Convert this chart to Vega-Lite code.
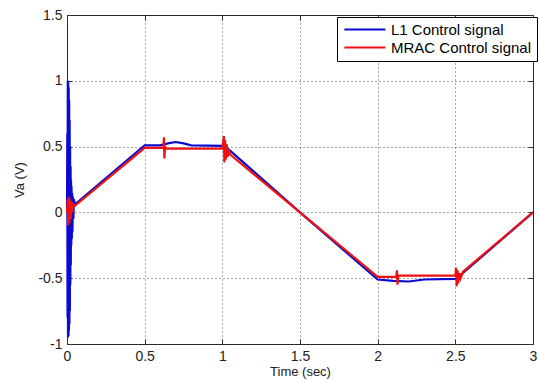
{
  "$schema": "https://vega.github.io/schema/vega-lite/v6.json",
  "width": 466,
  "height": 329,
  "autosize": {"type": "none"},
  "padding": {"left": 67, "top": 15, "right": 6, "bottom": 36},
  "background": "white",
  "config": {
    "view": {"stroke": "#333333", "strokeWidth": 1},
    "font": "Liberation Sans",
    "axis": {
      "labelFont": "Liberation Sans",
      "labelFontSize": 14,
      "labelColor": "#222222",
      "titleFont": "Liberation Sans",
      "titleFontSize": 13,
      "titleFontWeight": "normal",
      "titleColor": "#222222",
      "domain": false,
      "tickColor": "#333333",
      "tickSize": -5,
      "gridColor": "#000000",
      "gridDash": [1, 3],
      "gridOpacity": 0.7,
      "gridWidth": 1
    }
  },
  "data": {
    "values": [
      {"s": "L1 Control signal", "i": 1, "t": 0.0, "v": 0.0},
      {"s": "L1 Control signal", "i": 2, "t": 0.002, "v": 0.6},
      {"s": "L1 Control signal", "i": 3, "t": 0.0035, "v": -0.8},
      {"s": "L1 Control signal", "i": 4, "t": 0.005, "v": 1.0},
      {"s": "L1 Control signal", "i": 5, "t": 0.0065, "v": -0.95},
      {"s": "L1 Control signal", "i": 6, "t": 0.008, "v": 1.0},
      {"s": "L1 Control signal", "i": 7, "t": 0.0095, "v": -0.94},
      {"s": "L1 Control signal", "i": 8, "t": 0.011, "v": 0.95},
      {"s": "L1 Control signal", "i": 9, "t": 0.0125, "v": -0.9},
      {"s": "L1 Control signal", "i": 10, "t": 0.014, "v": 0.85},
      {"s": "L1 Control signal", "i": 11, "t": 0.0155, "v": -0.85},
      {"s": "L1 Control signal", "i": 12, "t": 0.017, "v": 0.7},
      {"s": "L1 Control signal", "i": 13, "t": 0.0185, "v": -0.75},
      {"s": "L1 Control signal", "i": 14, "t": 0.02, "v": 0.5},
      {"s": "L1 Control signal", "i": 15, "t": 0.0215, "v": -0.55},
      {"s": "L1 Control signal", "i": 16, "t": 0.023, "v": 0.35},
      {"s": "L1 Control signal", "i": 17, "t": 0.0245, "v": -0.4},
      {"s": "L1 Control signal", "i": 18, "t": 0.026, "v": 0.25},
      {"s": "L1 Control signal", "i": 19, "t": 0.0275, "v": -0.25},
      {"s": "L1 Control signal", "i": 20, "t": 0.029, "v": 0.2},
      {"s": "L1 Control signal", "i": 21, "t": 0.031, "v": -0.2},
      {"s": "L1 Control signal", "i": 22, "t": 0.033, "v": 0.15},
      {"s": "L1 Control signal", "i": 23, "t": 0.035, "v": -0.15},
      {"s": "L1 Control signal", "i": 24, "t": 0.038, "v": 0.12},
      {"s": "L1 Control signal", "i": 25, "t": 0.041, "v": -0.05},
      {"s": "L1 Control signal", "i": 26, "t": 0.045, "v": 0.1},
      {"s": "L1 Control signal", "i": 27, "t": 0.05, "v": 0.06},
      {"s": "L1 Control signal", "i": 28, "t": 0.5, "v": 0.51},
      {"s": "L1 Control signal", "i": 29, "t": 0.6, "v": 0.51},
      {"s": "L1 Control signal", "i": 30, "t": 0.65, "v": 0.525},
      {"s": "L1 Control signal", "i": 31, "t": 0.7, "v": 0.535},
      {"s": "L1 Control signal", "i": 32, "t": 0.75, "v": 0.525},
      {"s": "L1 Control signal", "i": 33, "t": 0.8, "v": 0.51},
      {"s": "L1 Control signal", "i": 34, "t": 1.0, "v": 0.505},
      {"s": "L1 Control signal", "i": 35, "t": 1.02, "v": 0.5},
      {"s": "L1 Control signal", "i": 36, "t": 1.5, "v": 0.0},
      {"s": "L1 Control signal", "i": 37, "t": 2.0, "v": -0.51},
      {"s": "L1 Control signal", "i": 38, "t": 2.1, "v": -0.52},
      {"s": "L1 Control signal", "i": 39, "t": 2.2, "v": -0.525},
      {"s": "L1 Control signal", "i": 40, "t": 2.3, "v": -0.51},
      {"s": "L1 Control signal", "i": 41, "t": 2.5, "v": -0.505},
      {"s": "L1 Control signal", "i": 42, "t": 2.52, "v": -0.49},
      {"s": "L1 Control signal", "i": 43, "t": 3.0, "v": 0.0},
      {"s": "MRAC Control signal", "i": 1, "t": 0.0, "v": 0.0},
      {"s": "MRAC Control signal", "i": 2, "t": 0.005, "v": 0.1},
      {"s": "MRAC Control signal", "i": 3, "t": 0.008, "v": -0.1},
      {"s": "MRAC Control signal", "i": 4, "t": 0.012, "v": 0.12},
      {"s": "MRAC Control signal", "i": 5, "t": 0.015, "v": -0.08},
      {"s": "MRAC Control signal", "i": 6, "t": 0.02, "v": 0.1},
      {"s": "MRAC Control signal", "i": 7, "t": 0.025, "v": -0.05},
      {"s": "MRAC Control signal", "i": 8, "t": 0.03, "v": 0.08},
      {"s": "MRAC Control signal", "i": 9, "t": 0.035, "v": 0.0},
      {"s": "MRAC Control signal", "i": 10, "t": 0.04, "v": 0.06},
      {"s": "MRAC Control signal", "i": 11, "t": 0.05, "v": 0.05},
      {"s": "MRAC Control signal", "i": 12, "t": 0.5, "v": 0.49},
      {"s": "MRAC Control signal", "i": 13, "t": 0.62, "v": 0.49},
      {"s": "MRAC Control signal", "i": 14, "t": 0.624, "v": 0.57},
      {"s": "MRAC Control signal", "i": 15, "t": 0.627, "v": 0.41},
      {"s": "MRAC Control signal", "i": 16, "t": 0.631, "v": 0.5},
      {"s": "MRAC Control signal", "i": 17, "t": 0.64, "v": 0.485},
      {"s": "MRAC Control signal", "i": 18, "t": 1.0, "v": 0.485},
      {"s": "MRAC Control signal", "i": 19, "t": 1.01, "v": 0.58},
      {"s": "MRAC Control signal", "i": 20, "t": 1.013, "v": 0.38},
      {"s": "MRAC Control signal", "i": 21, "t": 1.018, "v": 0.55},
      {"s": "MRAC Control signal", "i": 22, "t": 1.022, "v": 0.4},
      {"s": "MRAC Control signal", "i": 23, "t": 1.028, "v": 0.52},
      {"s": "MRAC Control signal", "i": 24, "t": 1.034, "v": 0.42},
      {"s": "MRAC Control signal", "i": 25, "t": 1.042, "v": 0.48},
      {"s": "MRAC Control signal", "i": 26, "t": 1.05, "v": 0.44},
      {"s": "MRAC Control signal", "i": 27, "t": 1.5, "v": 0.0},
      {"s": "MRAC Control signal", "i": 28, "t": 2.0, "v": -0.49},
      {"s": "MRAC Control signal", "i": 29, "t": 2.12, "v": -0.49},
      {"s": "MRAC Control signal", "i": 30, "t": 2.124, "v": -0.44},
      {"s": "MRAC Control signal", "i": 31, "t": 2.128, "v": -0.55},
      {"s": "MRAC Control signal", "i": 32, "t": 2.132, "v": -0.48},
      {"s": "MRAC Control signal", "i": 33, "t": 2.5, "v": -0.48},
      {"s": "MRAC Control signal", "i": 34, "t": 2.505, "v": -0.42},
      {"s": "MRAC Control signal", "i": 35, "t": 2.509, "v": -0.56},
      {"s": "MRAC Control signal", "i": 36, "t": 2.514, "v": -0.44},
      {"s": "MRAC Control signal", "i": 37, "t": 2.519, "v": -0.54},
      {"s": "MRAC Control signal", "i": 38, "t": 2.526, "v": -0.46},
      {"s": "MRAC Control signal", "i": 39, "t": 2.534, "v": -0.5},
      {"s": "MRAC Control signal", "i": 40, "t": 2.55, "v": -0.45},
      {"s": "MRAC Control signal", "i": 41, "t": 3.0, "v": 0.0}
    ]
  },
  "resolve": {"axis": {"x": "independent", "y": "independent"}},
  "layer": [
    {
      "transform": [{"filter": "datum.s == 'L1 Control signal'"}],
      "mark": {"type": "line", "strokeWidth": 2.2},
      "encoding": {
        "x": {
          "field": "t", "type": "quantitative",
          "scale": {"domain": [0, 3], "nice": false, "zero": false},
          "axis": {"orient": "bottom", "values": [0, 0.5, 1, 1.5, 2, 2.5, 3], "labelExpr": "'' + datum.value", "title": "Time (sec)", "labelPadding": 10, "titlePadding": 2, "labelFlush": false, "labelOverlap": false}
        },
        "y": {
          "field": "v", "type": "quantitative",
          "scale": {"domain": [-1, 1.5], "nice": false, "zero": false},
          "axis": {"orient": "left", "values": [-1, -0.5, 0, 0.5, 1, 1.5], "labelExpr": "'' + datum.value", "title": "Va (V)", "labelPadding": 10, "titlePadding": 11, "labelFlush": false, "labelOverlap": false}
        },
        "color": {
          "field": "s", "type": "nominal",
          "scale": {"domain": ["L1 Control signal", "MRAC Control signal"], "range": ["#0a0ad2", "#ee1111"]},
          "legend": {
            "title": null, "orient": "none", "legendX": 270, "legendY": 2,
            "strokeColor": "#000000", "fillColor": "#ffffff", "padding": 5,
            "symbolType": "M-1,0H7", "symbolSize": 105, "symbolStrokeWidth": 2,
            "labelFont": "Liberation Sans", "labelFontSize": 15, "labelColor": "#000000",
            "labelOffset": 34, "rowPadding": 2, "labelLimit": 300
          }
        },
        "order": {"field": "i", "type": "quantitative"}
      }
    },
    {
      "transform": [{"filter": "datum.s == 'MRAC Control signal'"}],
      "mark": {"type": "line", "strokeWidth": 2.2},
      "encoding": {
        "x": {"field": "t", "type": "quantitative", "axis": null},
        "y": {"field": "v", "type": "quantitative", "axis": null},
        "color": {"field": "s", "type": "nominal"},
        "order": {"field": "i", "type": "quantitative"}
      }
    },
    {
      "mark": {"type": "line", "strokeWidth": 0, "stroke": "transparent"},
      "encoding": {
        "x": {"field": "t", "type": "quantitative", "axis": {"orient": "top", "values": [0, 0.5, 1, 1.5, 2, 2.5, 3], "labels": false, "grid": false, "title": null}},
        "y": {"field": "v", "type": "quantitative", "axis": {"orient": "right", "values": [-1, -0.5, 0, 0.5, 1, 1.5], "labels": false, "grid": false, "title": null}}
      }
    }
  ]
}
